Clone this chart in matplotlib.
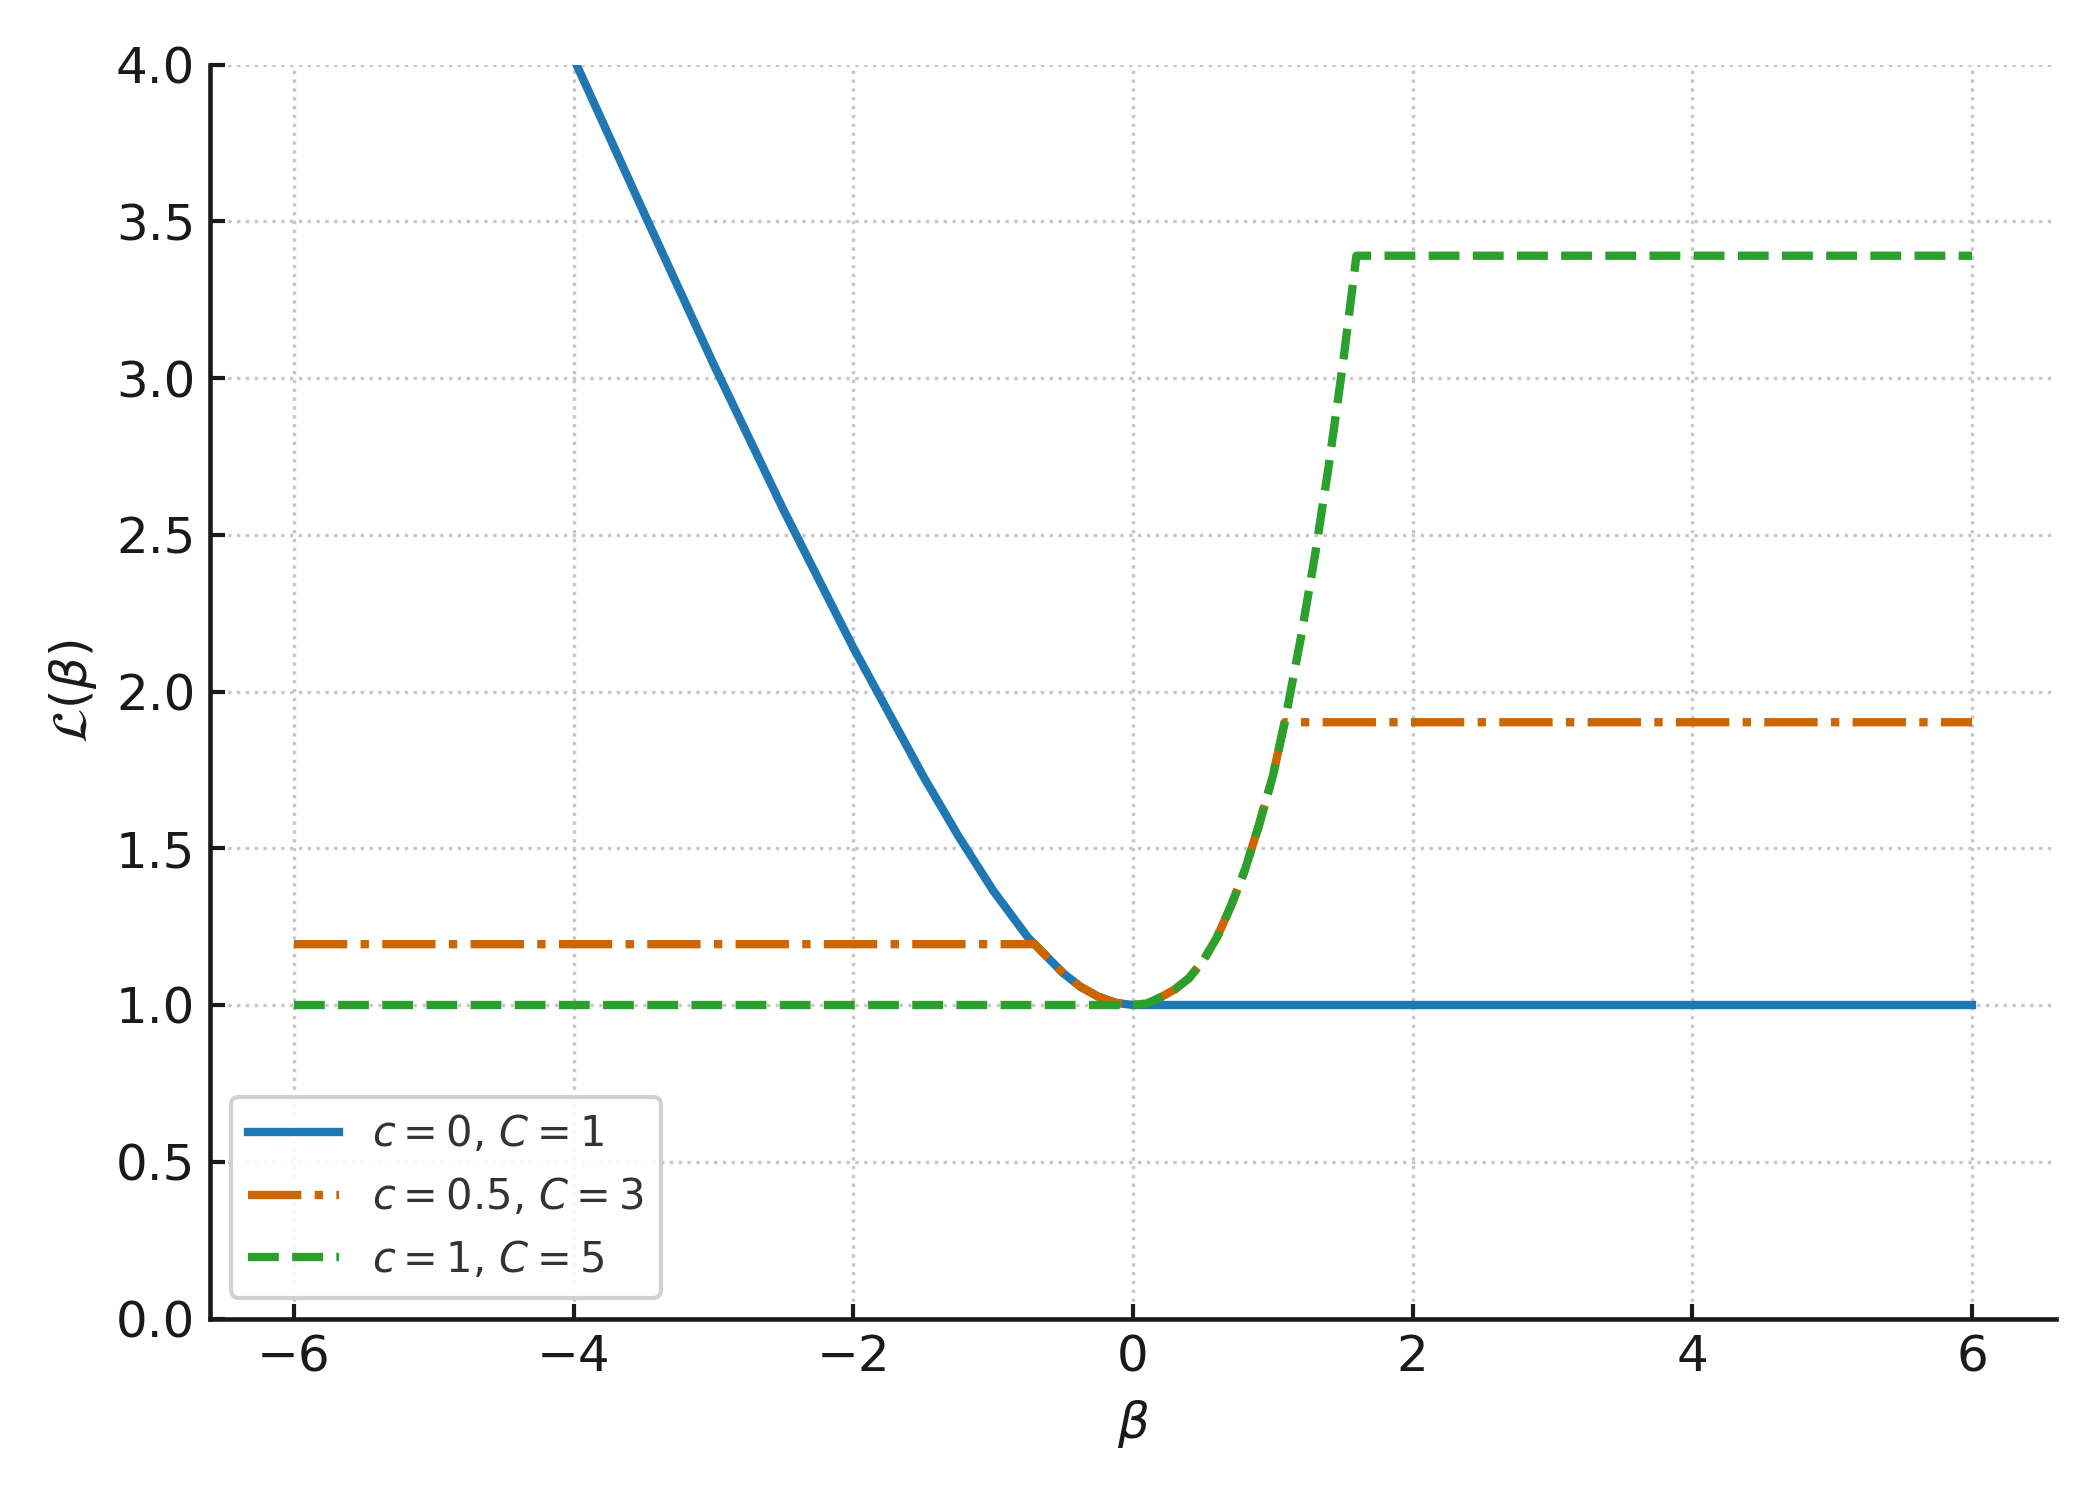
import numpy as np
import matplotlib.pyplot as plt

# loss curves (beta, L(beta))
beta_c0 = [-6.0, -5.0, -4.0, -3.5, -3.0, -2.5, -2.0, -1.5, -1.25, -1.0, -0.75,
           -0.5, -0.375, -0.25, -0.125, 0.0, 6.0]
loss_c0 = [6.0, 5.0, 4.02, 3.53, 3.045, 2.58, 2.14, 1.73, 1.54, 1.365, 1.215,
           1.102, 1.058, 1.027, 1.007, 1.0, 1.0]

beta_c05 = [-6.0, -0.704, -0.5, -0.375, -0.25, -0.125, 0.0, 0.1, 0.2, 0.3, 0.4, 0.5, 0.6,
            0.7, 0.8, 0.9, 1.0, 1.085, 6.0]
loss_c05 = [1.194, 1.194, 1.102, 1.058, 1.027, 1.007, 1.0, 1.005, 1.025, 1.05, 1.085, 1.14, 1.215,
            1.315, 1.43, 1.572, 1.73, 1.902, 1.902]

beta_c1 = [-6.0, 0.0, 0.1, 0.2, 0.3, 0.4, 0.5, 0.6, 0.7, 0.8, 0.9, 1.0, 1.085,
           1.2, 1.3, 1.4, 1.5, 1.598, 6.0]
loss_c1 = [1.0, 1.0, 1.005, 1.025, 1.05, 1.085, 1.14, 1.215, 1.315, 1.43, 1.572, 1.73, 1.902,
           2.17, 2.43, 2.72, 3.04, 3.39, 3.39]

labels = ['$c=0$, $C=1$', '$c=0.5$, $C=3$', '$c=1$, $C=5$']

plt.rcParams['font.family'] = 'DejaVu Sans'
plt.rcParams['mathtext.fontset'] = 'dejavusans'

fig, ax = plt.subplots(figsize=(7, 5), dpi=300)
fig.subplots_adjust(left=0.1, right=0.979, top=0.957, bottom=0.121)

ax.plot(beta_c0, loss_c0, color='#1f77b4', lw=2, ls='-', label=labels[0])
ax.plot(beta_c05, loss_c05, color='#cc6600', lw=2, ls='-.', label=labels[1])
ax.plot(beta_c1, loss_c1, color='#2ca02c', lw=2, ls='--', label=labels[2])

ax.set_ylim(0, 4)
ax.set_xticks([-6, -4, -2, 0, 2, 4, 6])
ax.set_xticklabels(['\u22126', '\u22124', '\u22122', '0', '2', '4', '6'])
ax.set_xlabel(r'$\beta$', fontsize=12, color='#1a1a1a')
ax.set_ylabel(r'$\mathcal{L}(\beta)$', fontsize=12, color='#1a1a1a')

ax.grid(True, ls=':', color='#c8c8c8', lw=0.8)
ax.set_axisbelow(True)
for s in ['top', 'right']:
    ax.spines[s].set_visible(False)
for s in ['left', 'bottom']:
    ax.spines[s].set_linewidth(1.1)
    ax.spines[s].set_color('#1a1a1a')
ax.tick_params(direction='in', length=3.5, width=1, labelsize=12, colors='#1a1a1a')

leg = ax.legend(loc='lower left', fontsize=10, handlelength=2.2, frameon=True, fancybox=True,
                edgecolor='#cccccc', framealpha=0.9)
for t in leg.get_texts():
    t.set_color('#333333')

plt.savefig('out.png', dpi=300)
